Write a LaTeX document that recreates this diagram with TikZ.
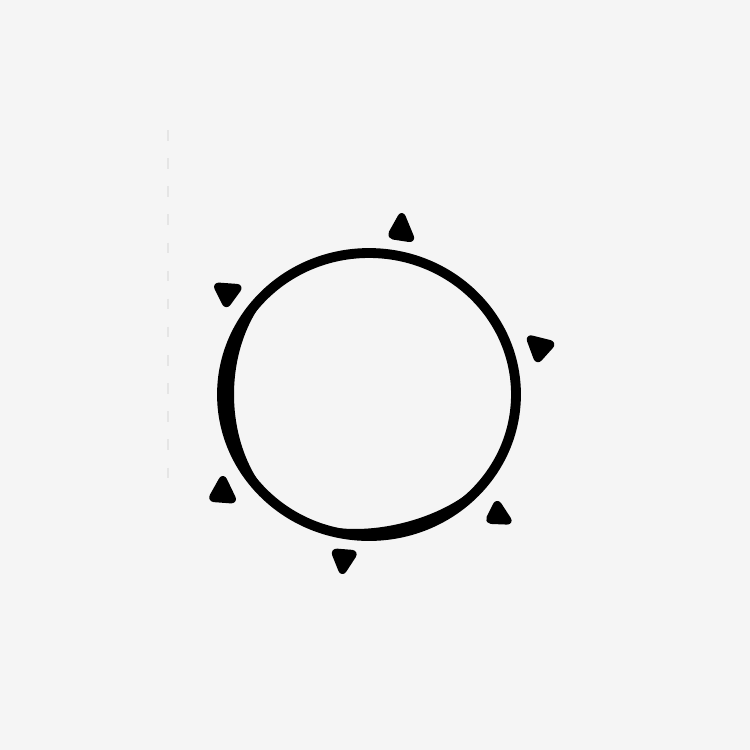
\documentclass[tikz,border=0pt]{standalone}
\usepackage{tikz}
\usepackage{xcolor}
\definecolor{paper}{HTML}{F5F5F5}

\begin{document}
\begin{tikzpicture}[x=0.01cm, y=-0.01cm, line join=round]
    % Page
    \fill[paper] (0,0) rectangle (750,750);
    % Faint margin mark
    \draw[black!10, line width=0.6pt, dash pattern=on 3pt off 5pt] (168,130) -- (168,480);
    % Ring
    \draw[line width=2.8pt] (369,394.5) ellipse (147 and 141.5);
    % Thicker parts of the ring (tapered crescents on the inside)
    \fill plot[domain=140:220, samples=40] ({369+143*cos(\x)},{394.5+137.5*sin(\x)})
        -- plot[domain=220:140, samples=40] ({369+(143-8*sin((\x-140)*180/80))*cos(\x)},{394.5+(137.5-8*sin((\x-140)*180/80))*sin(\x)}) -- cycle;
    \fill plot[domain=45:105, samples=30] ({369+143*cos(\x)},{394.5+137.5*sin(\x)})
        -- plot[domain=105:45, samples=30] ({369+(143-5*sin((\x-45)*3))*cos(\x)},{394.5+(137.5-5*sin((\x-45)*3))*sin(\x)}) -- cycle;
    % Spikes (pointing up)
    \filldraw[rounded corners=1.5pt, line width=1pt] (402,212) -- (414,241) -- (388,237) -- cycle;
    \filldraw[rounded corners=1.5pt, line width=1pt] (223,475) -- (236,502) -- (209,500) -- cycle;
    \filldraw[rounded corners=1.5pt, line width=1pt] (497,500) -- (512,523) -- (486,522) -- cycle;
    % Spikes (pointing down)
    \filldraw[rounded corners=1.5pt, line width=1pt] (214,284) -- (242,286) -- (226,308) -- cycle;
    \filldraw[rounded corners=1.5pt, line width=1pt] (527,336) -- (555,343) -- (537,363) -- cycle;
    \filldraw[rounded corners=1.5pt, line width=1pt] (332,550) -- (357,552) -- (342,575) -- cycle;
\end{tikzpicture}
\end{document}
